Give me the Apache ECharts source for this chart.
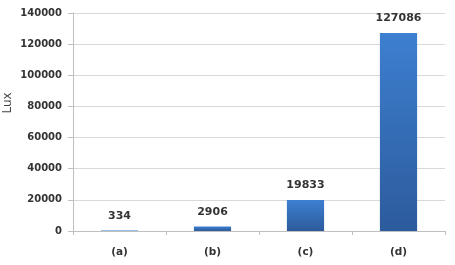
<!DOCTYPE html>
<html><head><meta charset="utf-8">
<script src="https://cdn.jsdelivr.net/npm/echarts@6/dist/echarts.min.js"></script>
<style>html,body{margin:0;padding:0;background:#fff}#c{width:455px;height:265px}</style>
</head><body><div id="c"></div>
<script>
var categories = ['(a)', '(b)', '(c)', '(d)'];
var luxValues = [334, 2906, 19833, 127086];
var yTicks = [0, 20000, 40000, 60000, 80000, 100000, 120000, 140000];

var chart = echarts.init(document.getElementById('c'), null, {renderer: 'canvas'});
chart.setOption({
  animation: false,
  backgroundColor: '#ffffff',
  grid: {left: 73, right: 10, top: 13, bottom: 34, containLabel: false, outerBoundsMode: 'none'},
  xAxis: {
    type: 'category',
    data: categories,
    axisLine: {lineStyle: {color: '#bfbfbf'}},
    axisTick: {show: true, length: 4, lineStyle: {color: '#bfbfbf'}},
    axisLabel: {color: '#333', fontWeight: 'bold', fontSize: 10.5, fontFamily: 'DejaVu Sans', margin: 16}
  },
  yAxis: {
    type: 'value',
    min: yTicks[0], max: yTicks[yTicks.length - 1], interval: 20000,
    name: 'Lux', nameLocation: 'middle', nameGap: 59, nameRotate: 90, nameMoveOverlap: false,
    nameTextStyle: {color: '#444', fontSize: 12, fontFamily: 'DejaVu Sans', padding: [0, 0, 0, 38]},
    axisLine: {show: true, lineStyle: {color: '#bfbfbf'}},
    axisTick: {show: true, length: 5, lineStyle: {color: '#bfbfbf'}},
    splitLine: {lineStyle: {color: '#d9d9d9'}},
    axisLabel: {color: '#333', fontWeight: 'bold', fontSize: 10, fontFamily: 'DejaVu Sans', margin: 11,
      formatter: function (v) { return String(v); }}
  },
  series: [{
    type: 'bar',
    data: luxValues,
    barWidth: '40%',
    itemStyle: {
      color: new echarts.graphic.LinearGradient(0, 0, 0, 1, [
        {offset: 0, color: '#3d7fd0'},
        {offset: 1, color: '#2c5b9c'}
      ])
    },
    label: {show: true, position: 'top', distance: 9, color: '#333', fontWeight: 'bold', fontSize: 11, fontFamily: 'DejaVu Sans'}
  }]
});
</script></body></html>
